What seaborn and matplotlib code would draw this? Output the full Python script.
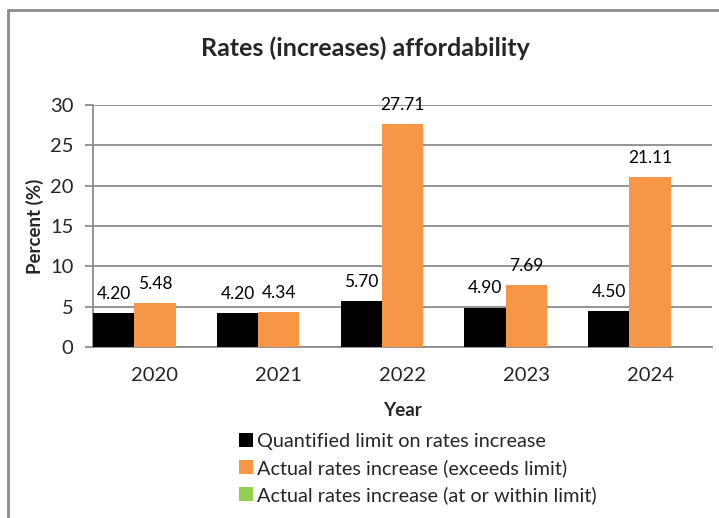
import matplotlib
matplotlib.use("Agg")
import matplotlib.pyplot as plt
import seaborn as sns
import pandas as pd
import numpy as np
from matplotlib.patches import Patch, Rectangle

years = ["2020", "2021", "2022", "2023", "2024"]
limit = [4.20, 4.20, 5.70, 4.90, 4.50]
actual = [5.48, 4.34, 27.71, 7.69, 21.11]
series_names = ["Quantified limit on rates increase",
                "Actual rates increase (exceeds limit)",
                "Actual rates increase (at or within limit)"]
colors = ["#000000", "#F79646", "#92D050"]
yticks = [0, 5, 10, 15, 20, 25, 30]

exceeds = [a if a > l else np.nan for a, l in zip(actual, limit)]
within = [a if a <= l else np.nan for a, l in zip(actual, limit)]

df = pd.DataFrame({
    "Year": years * 3,
    "Value": limit + exceeds + within,
    "Series": [series_names[0]] * len(years) + [series_names[1]] * len(years)
              + [series_names[2]] * len(years),
})

sns.set_theme(style="white")
plt.rcParams["font.family"] = ["Lato", "DejaVu Sans"]

fig = plt.figure(figsize=(7.19, 5.18), dpi=100)
ax = fig.add_axes([0.1293, 0.330, 0.861, 0.467])

sns.barplot(data=df, x="Year", y="Value", hue="Series",
            hue_order=series_names, palette=colors,
            width=1.0, ax=ax, legend=False, saturation=1, zorder=3)

for cont in ax.containers:
    vals = np.asarray(cont.datavalues, dtype=float)
    for bar in cont:
        bar.set_edgecolor("none")
    labels = ["" if np.isnan(v) else f"{v:.2f}" for v in vals]
    ax.bar_label(cont, labels=labels, padding=8, fontsize=12.5, color="#000000")

ax.set_ylim(0, 30)
ax.set_yticks(yticks)
ax.set_xlim(-0.5, len(years) - 0.5)
ax.yaxis.grid(True, color="#8C8C8C", linewidth=1.3, zorder=0)
ax.set_axisbelow(True)
for s in ["top", "right"]:
    ax.spines[s].set_visible(False)
ax.spines["left"].set_color("#8C8C8C")
ax.spines["bottom"].set_color("#8C8C8C")
ax.spines["left"].set_linewidth(1.3)
ax.spines["bottom"].set_linewidth(1.3)
ax.tick_params(axis="y", length=6, width=1.3, color="#8C8C8C", labelsize=14.5, pad=8, left=True)
ax.tick_params(axis="x", length=0, labelsize=14.5, pad=14)

ax.set_xlabel("Year", fontsize=13.5, fontweight="bold", labelpad=13)
ax.set_ylabel("Percent (%)", fontsize=13.5, fontweight="bold", labelpad=4)
fig.text(0.508, 0.907, "Rates (increases) affordability", ha="center", va="center",
         fontsize=18, fontweight="bold")

handles = [Patch(facecolor=c, edgecolor="none") for c in colors]
fig.legend(handles, series_names, loc="upper left", bbox_to_anchor=(0.332, 0.164),
           bbox_transform=fig.transFigure, frameon=False, fontsize=14.3,
           handlelength=0.7, handleheight=0.7, handletextpad=0.2,
           labelspacing=0.45, borderaxespad=0, borderpad=0)

fig.add_artist(Rectangle((0.011, -0.05), 1.05, 1.031,
                         transform=fig.transFigure, fill=False,
                         edgecolor="#8C8C8C", linewidth=2))

fig.savefig("out.png", dpi=100)
